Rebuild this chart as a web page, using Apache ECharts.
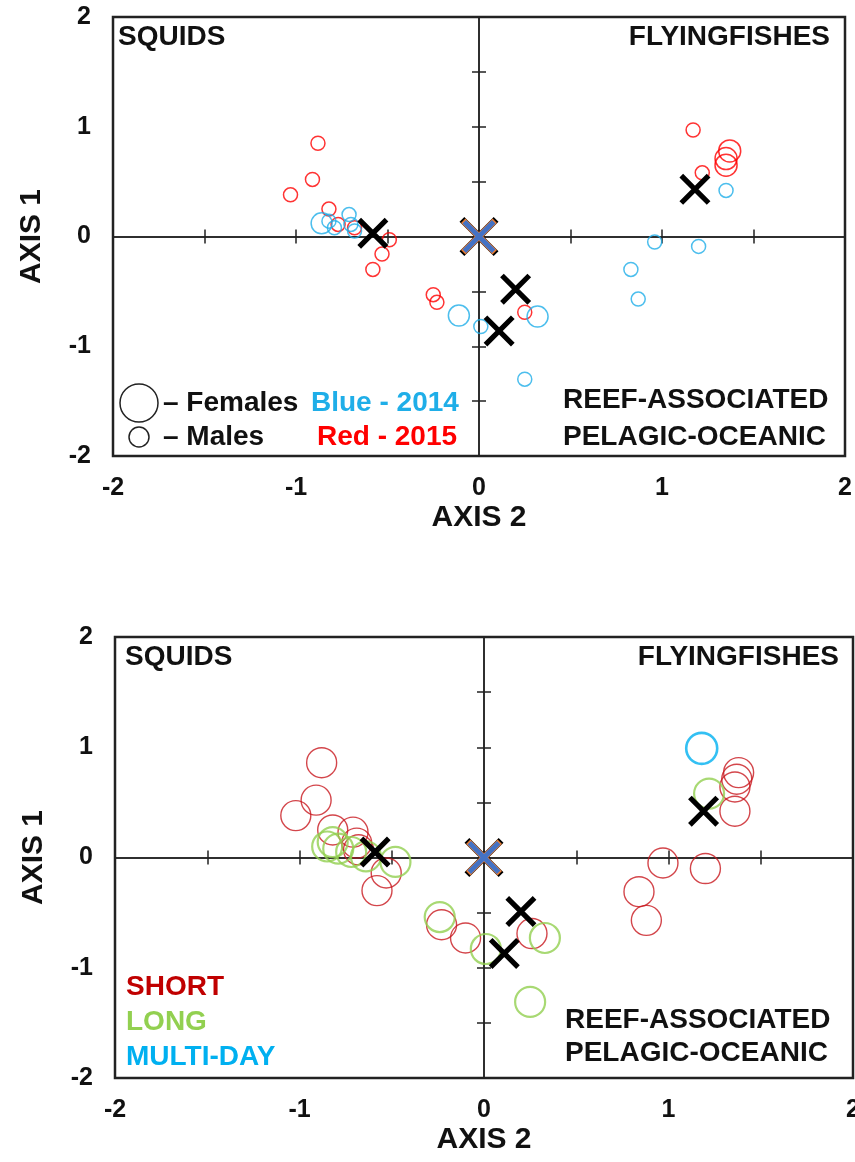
<!DOCTYPE html>
<html>
<head>
<meta charset="utf-8">
<script src="https://cdn.jsdelivr.net/npm/echarts@6/dist/echarts.min.js"></script>
<style>
  html, body { margin: 0; padding: 0; background: #fff; }
  #chart { width: 855px; height: 1162px; }
</style>
</head>
<body>
<div id="chart"></div>
<script>
// axis ticks
const axisMin = -2;
const axisMax = 2;
const labelStep = 1;
const tickStep = 0.5;

// top panel: sex / year  [axis2, axis1]
const males2015 = [[-0.88, 0.85], [-0.91, 0.52], [-1.03, 0.38], [-0.82, 0.25], [-0.77, 0.11], [-0.68, 0.08],
  [-0.49, -0.03], [-0.53, -0.16], [-0.58, -0.30], [-0.25, -0.53], [-0.23, -0.60], [0.25, -0.69],
  [1.17, 0.97], [1.22, 0.58]];
const females2015 = [[1.37, 0.78], [1.35, 0.71], [1.35, 0.65]];
const males2014 = [[-0.82, 0.14], [-0.79, 0.08], [-0.71, 0.20], [-0.70, 0.11], [-0.68, 0.05],
  [0.01, -0.82], [0.25, -1.30], [0.83, -0.30], [0.87, -0.57], [0.96, -0.05], [1.20, -0.09], [1.35, 0.42]];
const females2014 = [[-0.86, 0.12], [-0.11, -0.72], [0.32, -0.73]];
const centroidsTop = [[-0.58, 0.03], [1.18, 0.43], [0.20, -0.48], [0.11, -0.86]];

// bottom panel: trip length
const shortTrips = [[-0.88, 0.86], [-0.91, 0.52], [-1.02, 0.38], [-0.82, 0.25], [-0.71, 0.23], [-0.69, 0.13],
  [-0.68, 0.07], [-0.53, -0.14], [-0.58, -0.30], [-0.23, -0.61], [-0.10, -0.73], [0.26, -0.69],
  [0.84, -0.31], [0.88, -0.57], [0.97, -0.05], [1.20, -0.10], [1.38, 0.77], [1.37, 0.71], [1.36, 0.64], [1.36, 0.42]];
const longTrips = [[-0.85, 0.10], [-0.82, 0.14], [-0.79, 0.08], [-0.72, 0.05], [-0.64, 0.01], [-0.48, -0.04],
  [-0.24, -0.54], [0.01, -0.83], [0.33, -0.73], [0.25, -1.31], [1.22, 0.58]];
const multiDayTrips = [[1.18, 0.99]];
const centroidsBottom = [[-0.59, 0.05], [1.19, 0.42], [0.20, -0.49], [0.11, -0.87]];

const origin = [[0, 0]];

const FONT = "'Liberation Sans', Arial, sans-serif";

// filled X shape, h = half thickness of an arm (box is 100)
function xPath(h) {
    const d = h / Math.SQRT2;
    const p = (x, y) => x.toFixed(2) + ',' + y.toFixed(2);
    return 'path://M' + p(d, -d) + 'L' + p(100 + d, 100 - d) + 'L' + p(100 - d, 100 + d) + 'L' + p(-d, d) + 'Z' +
        'M' + p(100 + d, d) + 'L' + p(d, 100 + d) + 'L' + p(-d, 100 - d) + 'L' + p(100 - d, -d) + 'Z';
}

let myChart = echarts.init(document.getElementById('chart'));

const grids = [
    {left: 113, top: 17, width: 732, height: 439},
    {left: 115, top: 637, width: 738, height: 441}
];

let xAxes = [], yAxes = [];
grids.forEach(function (g, i) {
    // labelled axis on the frame
    xAxes.push({
        gridIndex: i, type: 'value', min: axisMin, max: axisMax, interval: labelStep,
        name: 'AXIS 2', nameLocation: 'middle', nameGap: 47,
        nameTextStyle: {fontFamily: FONT, fontWeight: 'bold', fontSize: 30, color: '#111'},
        axisLine: {show: false, onZero: false}, axisTick: {show: false}, splitLine: {show: false},
        axisLabel: {margin: 20, fontFamily: FONT, fontWeight: 'bold', fontSize: 25, color: '#111'}
    });
    yAxes.push({
        gridIndex: i, type: 'value', min: axisMin, max: axisMax, interval: labelStep,
        name: 'AXIS 1', nameLocation: 'middle', nameGap: 66,
        nameTextStyle: {fontFamily: FONT, fontWeight: 'bold', fontSize: 30, color: '#111'},
        axisLine: {show: false, onZero: false}, axisTick: {show: false}, splitLine: {show: false},
        axisLabel: {margin: 22, fontFamily: FONT, fontWeight: 'bold', fontSize: 25, color: '#111'}
    });
    // zero lines, ticks on both sides
    [true, false].forEach(function (inside) {
        xAxes.push({
            gridIndex: i, type: 'value', min: axisMin, max: axisMax, interval: tickStep,
            axisLine: {onZero: true, lineStyle: {color: '#222', width: 1.5}},
            axisTick: {inside: inside, length: 7, lineStyle: {color: '#222', width: 1.5}},
            axisLabel: {show: false}, splitLine: {show: false}
        });
        yAxes.push({
            gridIndex: i, type: 'value', min: axisMin, max: axisMax, interval: tickStep,
            axisLine: {onZero: true, lineStyle: {color: '#222', width: 1.5}},
            axisTick: {inside: inside, length: 7, lineStyle: {color: '#222', width: 1.5}},
            axisLabel: {show: false}, splitLine: {show: false}
        });
    });
});

function circles(data, gi, size, color, width) {
    return {
        type: 'scatter', xAxisIndex: gi * 3, yAxisIndex: gi * 3, data: data,
        symbol: 'circle', symbolSize: size, silent: true, z: 3,
        itemStyle: {color: 'rgba(0,0,0,0)', borderColor: color, borderWidth: width}
    };
}
function crosses(data, gi, size, h, color, z) {
    return {
        type: 'scatter', xAxisIndex: gi * 3, yAxisIndex: gi * 3, data: data,
        symbol: xPath(h), symbolSize: size, silent: true, z: z,
        itemStyle: {color: color, borderWidth: 0, opacity: 1}
    };
}

let series = [
    circles(males2015, 0, 14, '#FF0000', 1.5),
    circles(females2015, 0, 22, '#FF0000', 1.5),
    circles(males2014, 0, 14, '#1FAEE8', 1.5),
    circles(females2014, 0, 21, '#1FAEE8', 1.5),
    crosses(centroidsTop, 0, 31, 9.5, '#000', 5),
    crosses(origin, 0, 39, 10, '#000', 5),
    crosses(origin, 0, 36, 10, '#ED7D31', 6),
    crosses(origin, 0, 33, 8.5, '#4472C4', 7),

    circles(shortTrips, 1, 30, '#C8181E', 1.4),
    circles(longTrips, 1, 30, '#92D050', 2.2),
    circles(multiDayTrips, 1, 31, '#00B0F0', 2.6),
    crosses(centroidsBottom, 1, 31, 9.5, '#000', 5),
    crosses(origin, 1, 39, 10, '#000', 5),
    crosses(origin, 1, 36, 10, '#ED7D31', 6),
    crosses(origin, 1, 33, 8.5, '#4472C4', 7)
];

function label(text, x, y, color, align) {
    return {
        type: 'text', x: x, y: y, z: 10, silent: true,
        style: {
            text: text, fill: color || '#111', font: 'bold 28px ' + FONT,
            textAlign: align || 'left', align: align || 'left',
            textVerticalAlign: 'middle', verticalAlign: 'middle'
        }
    };
}

let graphic = [
    label('SQUIDS', 118, 37),
    label('FLYINGFISHES', 830, 37, '#111', 'right'),
    label('REEF-ASSOCIATED', 563, 400),
    label('PELAGIC-OCEANIC', 563, 437),
    {type: 'circle', shape: {cx: 139, cy: 403, r: 19}, style: {fill: 'none', stroke: '#222', lineWidth: 1.5}, z: 10},
    {type: 'circle', shape: {cx: 139, cy: 437, r: 10}, style: {fill: 'none', stroke: '#222', lineWidth: 1.5}, z: 10},
    label('– Females', 163, 403),
    label('– Males', 163, 437),
    label('Blue - 2014', 311, 403, '#1FAEE8'),
    label('Red - 2015', 317, 437, '#FF0000'),

    label('SQUIDS', 125, 657),
    label('FLYINGFISHES', 839, 657, '#111', 'right'),
    label('REEF-ASSOCIATED', 565, 1020),
    label('PELAGIC-OCEANIC', 565, 1053),
    label('SHORT', 126, 987, '#C00000'),
    label('LONG', 126, 1022, '#92D050'),
    label('MULTI-DAY', 126, 1057, '#00B0F0')
];

myChart.setOption({
    animation: false,
    backgroundColor: '#fff',
    grid: grids.map(function (g) {
        return Object.assign({
            show: true, borderColor: '#222', borderWidth: 2.5, backgroundColor: 'transparent',
            outerBoundsMode: 'none', containLabel: false
        }, g);
    }),
    xAxis: xAxes,
    yAxis: yAxes,
    series: series,
    graphic: graphic
});
</script>
</body>
</html>
